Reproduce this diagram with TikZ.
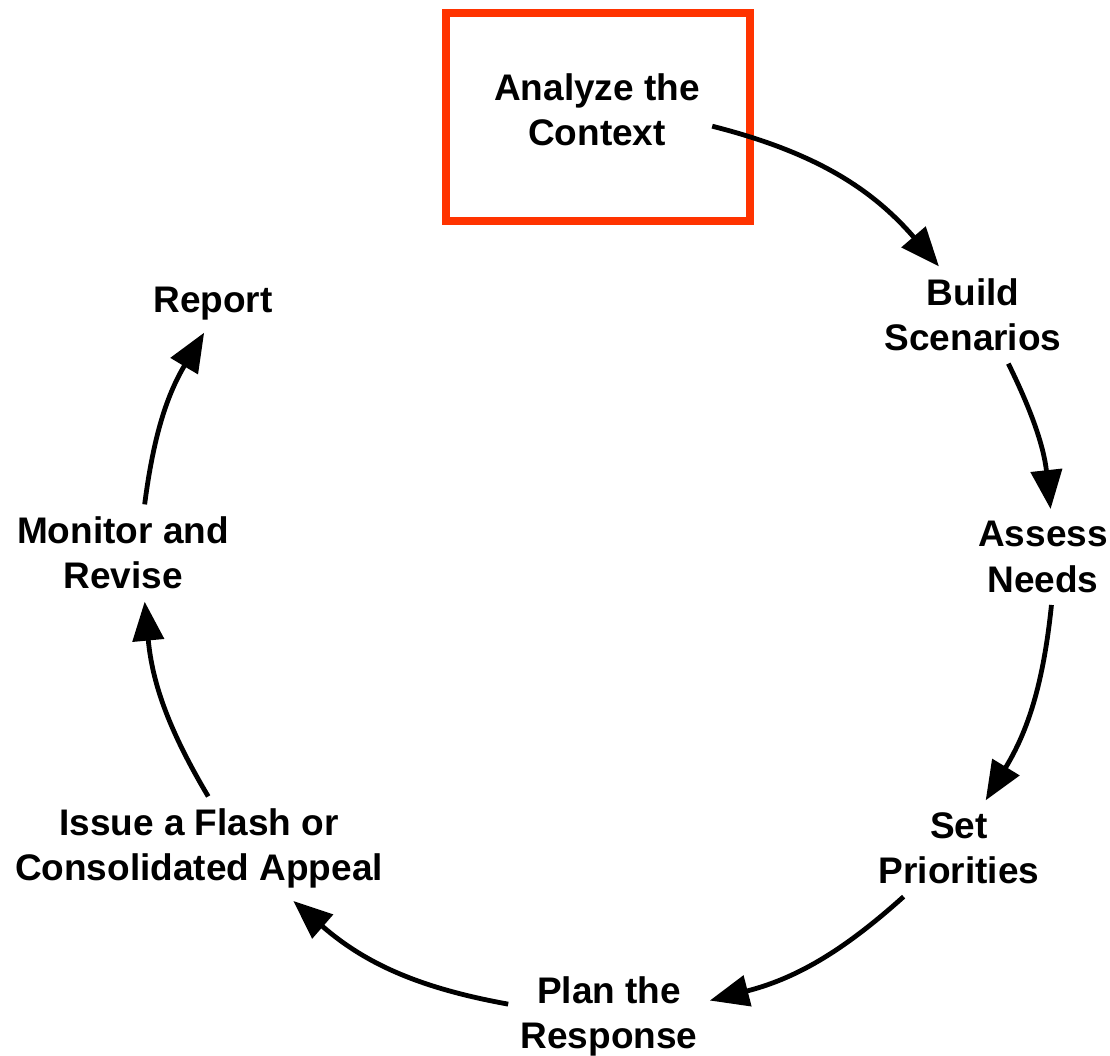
\documentclass[tikz,border=0pt]{standalone}
\usepackage{fontspec}
\setmainfont{Liberation Sans}
\usetikzlibrary{arrows.meta}
\definecolor{boxred}{HTML}{FF3300}

\begin{document}
\begin{tikzpicture}
          [x=0.5pt, y=-0.5pt,
           >={Triangle[length=19.5pt, width=15.5pt]},
           flow/.style={line width=2.4pt, ->},
           every node/.style={align=center, inner sep=6pt,
             font=\fontsize{18.5pt}{22.65pt}\selectfont\bfseries}]
          \useasboundingbox (0,0) rectangle (1110,1056);

          \node (frame) [draw=boxred, line width=4pt, minimum width=151.75pt, minimum height=104pt] at (597.8,117) {};

          \node (ctx) at (597,110) {Analyze the\\Context};
          \node (scn) at (973,315) {Build\\Scenarios};
          \node (need) at (1043,557) {Assess\\Needs};
          \node (prio) at (959,848.5) {Set\\Priorities};
          \node (plan) at (609,1016.5) {Plan the\\Response};
          \node (appeal) at (199,848.7) {Issue a Flash or\\Consolidated Appeal};
          \node (mon) at (123,553) {Monitor and\\Revise};
          \node (rep) at (213,303.7) {Report};

          \draw[flow] (ctx.-8) to[bend left=17.5] (scn.125);
          \draw[flow] (scn.-54) to[bend left=10] (need.81);
          \draw[flow] (need.-80) to[bend left=12.7] (prio.61);
          \draw[flow] (prio.-139) to[bend left=13.8] (plan.9);
          \draw[flow] (plan.173) to[bend left=15.4] (appeal.-29);
          \draw[flow] (appeal.80) to[bend left=12.7] (mon.-66);
          \draw[flow] (mon.66) to[bend left=11.75] (rep.-107);

        \end{tikzpicture}
\end{document}
